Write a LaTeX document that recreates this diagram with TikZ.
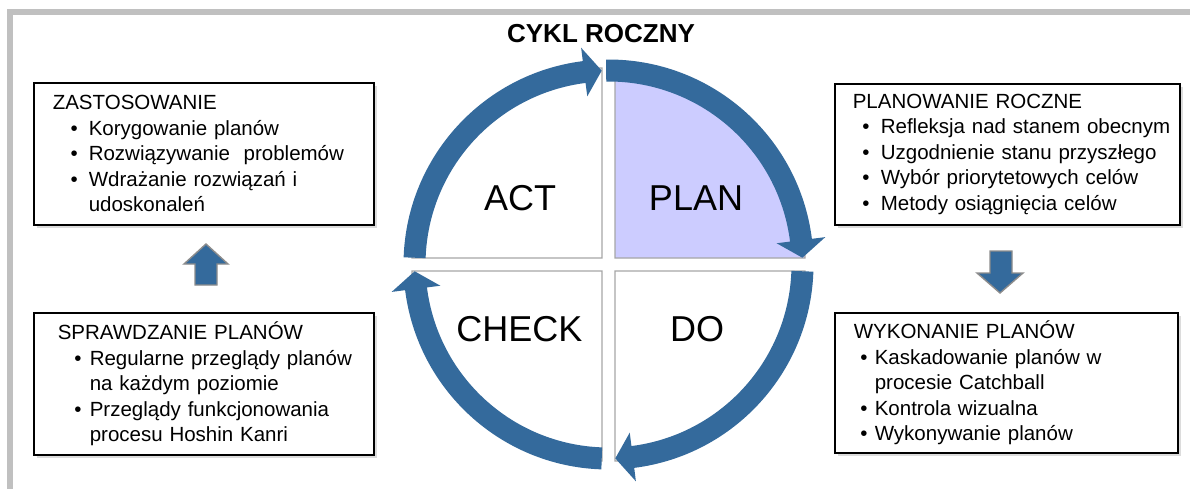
\documentclass[tikz,border=0pt]{standalone}
\usepackage{fontspec}
\setmainfont{Liberation Sans}
\usetikzlibrary{calc,shadows}

\definecolor{ringblue}{HTML}{346A9C}
\definecolor{planfill}{HTML}{CCCCFF}
\definecolor{framegray}{HTML}{C0C0C0}
\definecolor{quadline}{HTML}{A6A6A6}
\definecolor{blockedge}{HTML}{8C8C8C}

% bullet line: indent, bullet box width, text
\newcommand\itemline[3]{\hspace*{#1pt}\makebox[#2pt][l]{•}\mbox{#3}}
% continuation of a bullet line: total indent, text
\newcommand\contline[2]{\hspace*{#1pt}\mbox{#2}}

% circular arrow segment: start angle, head base angle, tip angle
\newcommand\ringarrow[3]{%
  \fill[ringblue] ($(ring)+(#1:205)$) arc[start angle=#1,end angle=#2,radius=205]
    -- ($(ring)+(#2:218.5)$) -- ($(ring)+(#3:194)$) -- ($(ring)+(#2:169.5)$)
    -- ($(ring)+(#2:183)$) arc[start angle=#2,end angle=#1,radius=183] -- cycle;}

\tikzset{
  infobox/.style={draw=black, line width=1.6pt, fill=white, anchor=north west,
    align=left, inner ysep=0pt,
    drop shadow={shadow xshift=3pt, shadow yshift=-3pt, opacity=0.3, fill=black!45},
    font=\fontsize{20.5}{25.5}\selectfont},
  biglabel/.style={font=\fontsize{36}{40}\selectfont, inner sep=0pt},
  quadrant/.style={draw=quadline, line width=1.4pt},
  blockarrow/.style={fill=ringblue, draw=blockedge, line width=1.4pt},
}

\begin{document}
\begin{tikzpicture}[x=1pt,y=1pt]
\useasboundingbox (0,0) rectangle (1190,-489);
\fill[white] (0,0) rectangle (1190,-489);

% outer frame
\draw[framegray, line width=5.5pt] (9.8,-489) -- (9.8,-12) -- (1190,-12);

% title
\node[font=\bfseries\fontsize{26}{30}\selectfont, inner sep=0pt] (title) at (601,-34) {CYKL ROCZNY};

% quadrants of the cycle
\draw[quadrant] (602,-258) -- (602,-68) arc[start angle=90,end angle=180,radius=190] -- cycle;
\filldraw[quadrant, fill=planfill] (615,-258) -- (615,-68) arc[start angle=90,end angle=0,radius=190] -- cycle;
\draw[quadrant] (602,-271) -- (412,-271) arc[start angle=180,end angle=270,radius=190] -- cycle;
\draw[quadrant] (615,-271) -- (615,-461) arc[start angle=270,end angle=360,radius=190] -- cycle;

\node[biglabel] (act) at (520,-198) {ACT};
\node[biglabel] (plan) at (696,-198) {PLAN};
\node[biglabel] (check) at (519.5,-329) {CHECK};
\node[biglabel] (do) at (697,-329) {DO};

% circular arrows
\coordinate (ring) at (608.5,-264.5);
\ringarrow{178}{97.2}{92}
\ringarrow{90.7}{7.2}{2}
\ringarrow{-2}{-82.8}{-88}
\ringarrow{-92}{-172.8}{-178}

% description boxes
\node[infobox, inner xsep=19pt, text width=302pt, minimum height=142pt] (zast) at (33,-82)
  {\mbox{ZASTOSOWANIE}\\
   \itemline{17.8}{18.2}{Korygowanie planów}\\
   \itemline{17.8}{18.2}{Rozwiązywanie\ \ problemów}\\
   \itemline{17.8}{18.2}{Wdrażanie rozwiązań i}\\
   \contline{36}{udoskonaleń}};

\node[infobox, inner xsep=18pt, text width=309pt, minimum height=141pt] (planowanie) at (834,-83)
  {\mbox{PLANOWANIE ROCZNE}\\
   \itemline{9.5}{18.5}{Refleksja nad stanem obecnym}\\
   \itemline{9.5}{18.5}{Uzgodnienie stanu przyszłego}\\
   \itemline{9.5}{18.5}{Wybór priorytetowych celów}\\
   \itemline{9.5}{18.5}{Metody osiągnięcia celów}};

\node[infobox, inner xsep=24pt, text width=292pt, minimum height=142pt] (sprawdzanie) at (33,-312)
  {\mbox{SPRAWDZANIE PLANÓW}\\
   \itemline{16.5}{15.5}{Regularne przeglądy planów}\\
   \contline{32}{na każdym poziomie}\\
   \itemline{16.5}{15.5}{Przeglądy funkcjonowania}\\
   \contline{32}{procesu Hoshin Kanri}};

\node[infobox, inner xsep=19pt, text width=305pt, minimum height=140pt] (wykonanie) at (834,-312)
  {\mbox{WYKONANIE PLANÓW}\\
   \itemline{6.5}{14.5}{Kaskadowanie planów w}\\
   \contline{21}{procesie Catchball}\\
   \itemline{6.5}{14.5}{Kontrola wizualna}\\
   \itemline{6.5}{14.5}{Wykonywanie planów}};

% block arrows between the boxes
\filldraw[blockarrow] (195,-285) -- (195,-264) -- (184,-264) -- (206,-244) -- (228,-264) -- (217,-264) -- (217,-285) -- cycle;
\filldraw[blockarrow] (990,-251) -- (1012,-251) -- (1012,-273) -- (1023,-273) -- (1000,-293) -- (977,-273) -- (990,-273) -- cycle;
\end{tikzpicture}
\end{document}
